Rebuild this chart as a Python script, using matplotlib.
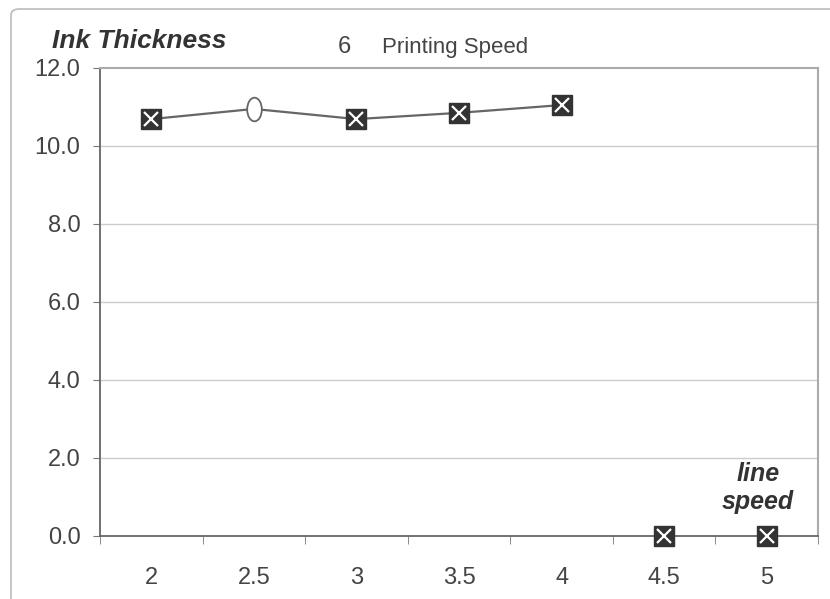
import numpy as np
import matplotlib
matplotlib.use('Agg')
import matplotlib.pyplot as plt
from matplotlib.path import Path
from matplotlib.transforms import Affine2D
from matplotlib.patches import FancyBboxPatch
from matplotlib import font_manager

# line speed categories and measured ink thickness
speeds = ['2', '2.5', '3', '3.5', '4', '4.5', '5']
thickness = [10.69, 10.95, 10.69, 10.85, 11.05, 0.0, 0.0]
n_joined = 5          # first runs are joined by the line
oval_idx = 1          # the 2.5 point is drawn as an open oval

names = {f.name for f in font_manager.fontManager.ttflist}
NARROW = [f for f in ['Liberation Sans Narrow', 'DejaVu Sans Condensed',
                      'Liberation Sans'] if f in names] + ['DejaVu Sans']
HEAVY = ['Liberation Sans', 'DejaVu Sans']
DARK = '#333333'

fig = plt.figure(figsize=(8.3, 5.99), dpi=100)
fig.patch.set_facecolor('white')

# chart frame with rounded corner
frame = FancyBboxPatch((11 / 830, -0.5), 1.2, (599 - 9) / 599 + 0.5,
                       boxstyle='round,pad=0,rounding_size=0.01',
                       transform=fig.transFigure, fill=False,
                       edgecolor='#bbbbbb', linewidth=1.2)
fig.patches.append(frame)

ax = fig.add_axes([100 / 830, (599 - 536) / 599, 718 / 830, 468 / 599])
x = np.arange(len(speeds))

ax.set_xlim(-0.5, len(speeds) - 0.5)
ax.set_ylim(0, 12)
ax.set_yticks(np.arange(0, 12.1, 2))
ax.set_yticklabels([f'{v:.1f}' for v in np.arange(0, 12.1, 2)],
                   family=NARROW, fontsize=17, color='#444444')
ax.set_xticks(x)
ax.set_xticklabels(speeds, family=NARROW, fontsize=17, color='#444444')
ax.set_xticks(np.arange(-0.5, len(speeds), 1), minor=True)
ax.tick_params(axis='x', which='major', length=0, pad=22)
ax.tick_params(axis='x', which='minor', length=6, color='#777777', direction='out')
ax.tick_params(axis='y', length=5, color='#777777', pad=9)

for v in np.arange(2, 12, 2):
    ax.axhline(v, color='#cccccc', linewidth=1.0, zorder=0)

for side in ['top', 'right']:
    ax.spines[side].set_color('#aaaaaa')
    ax.spines[side].set_linewidth(1.5)
for side in ['left', 'bottom']:
    ax.spines[side].set_color('#666666')
    ax.spines[side].set_linewidth(1.3)

# connecting line
ax.plot(x[:n_joined], thickness[:n_joined], color='#666666', linewidth=1.6, zorder=2)

# square markers with a white cross
sq = [i for i in range(len(speeds)) if i != oval_idx]
xs = x[sq]
ys = np.array(thickness)[sq]
ax.plot(xs, ys, linestyle='none', marker='s', markersize=14,
        markerfacecolor=DARK, markeredgecolor=DARK, zorder=3, clip_on=False)
ax.plot(xs, ys, linestyle='none', marker='x', markersize=10,
        markeredgecolor='white', markeredgewidth=1.6, zorder=4, clip_on=False)

# oval marker
oval = Path.unit_circle().transformed(Affine2D().scale(0.62, 1.0))
ax.plot([x[oval_idx]], [thickness[oval_idx]], linestyle='none', marker=oval,
        markersize=17, markerfacecolor='white', markeredgecolor='#666666',
        markeredgewidth=1.3, zorder=3)

fig.text(52 / 830, 1 - 48 / 599, 'Ink Thickness', family=HEAVY, fontsize=19,
         fontweight='bold', fontstyle='italic', color=DARK, va='baseline')
fig.text(338 / 830, 1 - 53 / 599, '6', family=NARROW, fontsize=17,
         color='#444444', va='baseline')
fig.text(382 / 830, 1 - 53 / 599, 'Printing Speed', family=NARROW, fontsize=16,
         color='#444444', va='baseline')
fig.text(758 / 830, 1 - 488 / 599, 'line\nspeed', family=HEAVY, fontsize=18,
         fontweight='bold', fontstyle='italic', color=DARK,
         ha='center', va='center', linespacing=1.25)

fig.savefig('out.png', dpi=100)
